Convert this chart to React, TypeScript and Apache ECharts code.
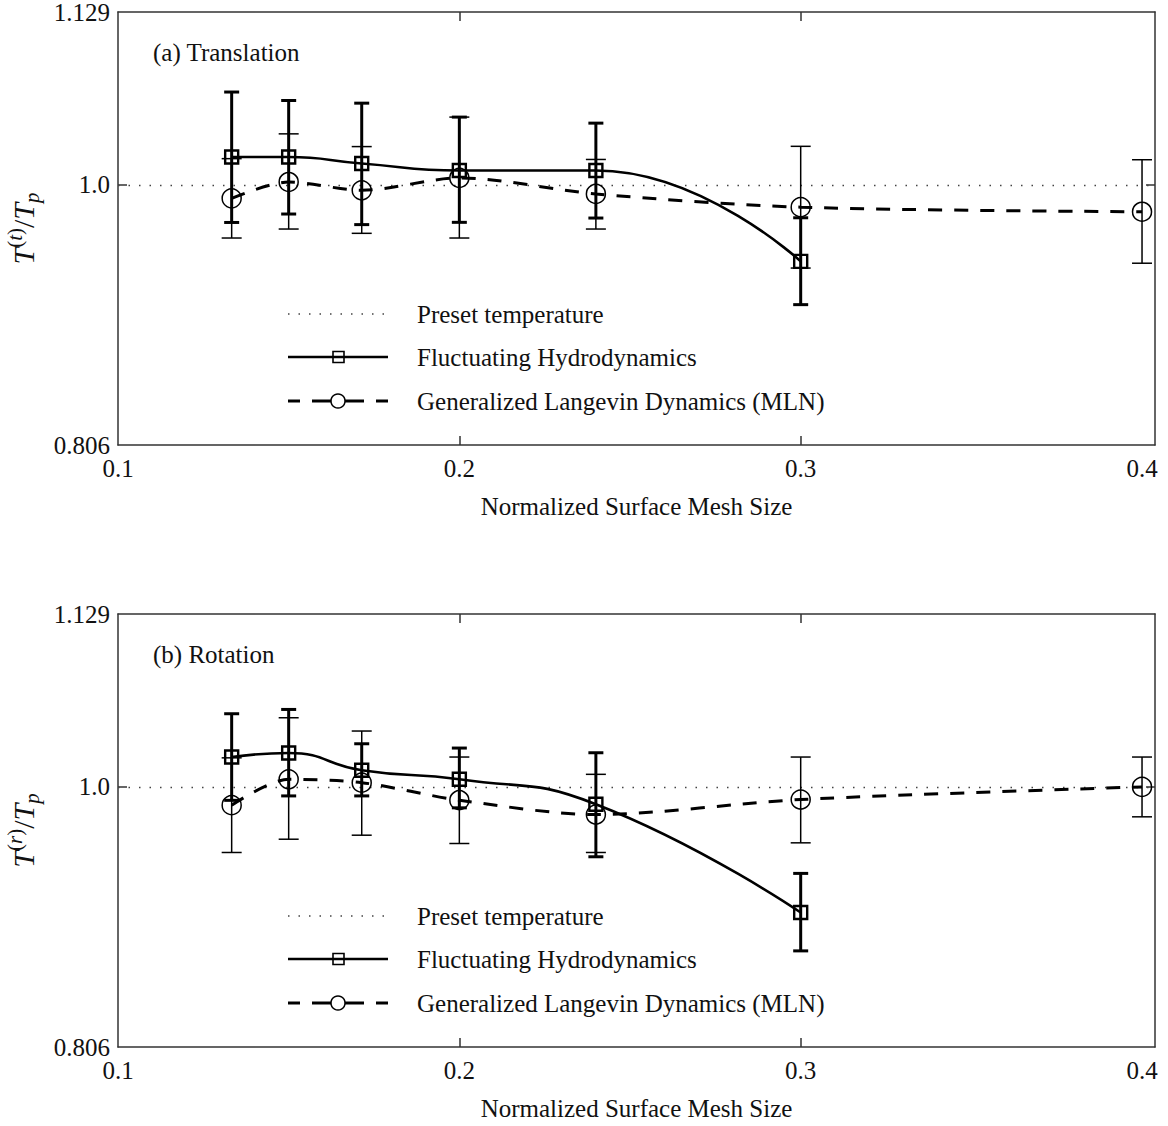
import React, { useEffect, useRef } from 'react';
import * as echarts from 'echarts';

// ---- data ----
const meshSizes = [0.1333, 0.15, 0.1714, 0.2, 0.24, 0.3, 0.4];
const xTickValues = [0.1, 0.2, 0.3, 0.4];
const yTickValues = [0.806, 1.0, 1.129];
const presetTemperature = 1.0;

// (a) Translation
const fhTrans = [1.0208, 1.0208, 1.016, 1.0108, 1.0108, 0.943];
const fhTransLow = [0.972, 0.9783, 0.9704, 0.9721, 0.9753, 0.9107];
const fhTransHigh = [1.0693, 1.063, 1.061, 1.0506, 1.0461, 0.9755];
const gldTrans = [0.99, 1.0022, 0.996, 1.0052, 0.9933, 0.9834, 0.98];
const gldTransLow = [0.9604, 0.9671, 0.9639, 0.9604, 0.9671, 0.938, 0.9416];
const gldTransHigh = [1.0196, 1.0381, 1.0286, 1.0506, 1.019, 1.0288, 1.0188];

// (b) Rotation
const fhRot = [1.0223, 1.0253, 1.0124, 1.0057, 0.9871, 0.9063];
const fhRotLow = [0.99, 0.9933, 0.9933, 0.9844, 0.9479, 0.8777];
const fhRotHigh = [1.0546, 1.0578, 1.0322, 1.029, 1.0255, 0.9355];
const gldRot = [0.9864, 1.0057, 1.0032, 0.9901, 0.9794, 0.9906, 1.0];
const gldRotLow = [0.9511, 0.961, 0.964, 0.9578, 0.9511, 0.9583, 0.9777];
const gldRotHigh = [1.0217, 1.0516, 1.0417, 1.0223, 1.0094, 1.0223, 1.0223];

const panelTitles = ['(a) Translation', '(b) Rotation'];
const yNames = [
  '{i|T}{s|(}{si|t}{s|)}{n|/}{i|T}{b|p}',
  '{i|T}{s|(}{si|r}{s|)}{n|/}{i|T}{b|p}',
];
const xName = 'Normalized Surface Mesh Size';
const legendLabels = ['Preset temperature', 'Fluctuating Hydrodynamics', 'Generalized Langevin Dynamics (MLN)'];

const FONT = "'Liberation Serif', 'Times New Roman', serif";
const AXIS = '#333';
const INK = '#111';
const FS = 25;

function errorBars(xs: number[], lows: number[], highs: number[], idx: number, width: number, cap: number) {
  return {
    type: 'custom',
    xAxisIndex: idx * 2,
    yAxisIndex: idx * 2,
    z: 3,
    silent: true,
    data: lows.map((lo, i) => [xs[i], lo, highs[i]]),
    encode: { x: 0, y: [1, 2] },
    renderItem: (params: any, api: any) => {
      const x = api.value(0);
      const lo = api.coord([x, api.value(1)]);
      const hi = api.coord([x, api.value(2)]);
      const h = cap / 2;
      const style = { stroke: '#000', lineWidth: width, fill: 'none' };
      return {
        type: 'group',
        children: [
          { type: 'line', shape: { x1: lo[0], y1: lo[1], x2: hi[0], y2: hi[1] }, style },
          { type: 'line', shape: { x1: lo[0] - h, y1: lo[1], x2: lo[0] + h, y2: lo[1] }, style },
          { type: 'line', shape: { x1: hi[0] - h, y1: hi[1], x2: hi[0] + h, y2: hi[1] }, style },
        ],
      };
    },
  };
}

function panelSeries(idx: number, fh: number[], fhLo: number[], fhHi: number[], gld: number[], gldLo: number[], gldHi: number[]) {
  const fhX = meshSizes.slice(0, fh.length);
  return [
    errorBars(meshSizes, gldLo, gldHi, idx, 1.5, 20),
    errorBars(fhX, fhLo, fhHi, idx, 3, 15),
    {
      type: 'line',
      name: legendLabels[2],
      xAxisIndex: idx * 2,
      yAxisIndex: idx * 2,
      z: 4,
      data: meshSizes.map((x, i) => [x, gld[i]]),
      smooth: 0.3,
      symbol: 'circle',
      symbolSize: 19,
      itemStyle: { color: 'rgba(0,0,0,0)', borderColor: '#000', borderWidth: 1.5 },
      lineStyle: { color: '#000', width: 3, type: [14, 12] },
      markLine: {
        silent: true,
        symbol: 'none',
        label: { show: false },
        z: 1,
        lineStyle: { color: '#444', width: 1.3, type: [1.5, 9] },
        data: [{ yAxis: presetTemperature }],
      },
    },
    {
      type: 'line',
      name: legendLabels[1],
      xAxisIndex: idx * 2,
      yAxisIndex: idx * 2,
      z: 5,
      data: fhX.map((x, i) => [x, fh[i]]),
      smooth: 0.5,
      symbol: 'rect',
      symbolSize: 13,
      itemStyle: { color: 'rgba(0,0,0,0)', borderColor: '#000', borderWidth: 2.4 },
      lineStyle: { color: '#000', width: 2.6 },
    },
  ];
}

function legendGraphic(y0: number) {
  const rows = [y0, y0 + 43, y0 + 87];
  const els: any[] = [];
  els.push({ type: 'line', shape: { x1: 288, y1: rows[0], x2: 388, y2: rows[0] }, style: { stroke: '#444', lineWidth: 1.3, lineDash: [1.5, 9] } });
  els.push({ type: 'line', shape: { x1: 288, y1: rows[1], x2: 388, y2: rows[1] }, style: { stroke: '#000', lineWidth: 2.6 } });
  els.push({ type: 'rect', shape: { x: 333, y: rows[1] - 5.5, width: 11, height: 11 }, style: { fill: 'none', stroke: '#000', lineWidth: 1.6 } });
  const segs = [[288, 300], [312, 331], [345, 364], [376, 388]];
  segs.forEach(([a, b]) => els.push({ type: 'line', shape: { x1: a, y1: rows[2], x2: b, y2: rows[2] }, style: { stroke: '#000', lineWidth: 3 } }));
  els.push({ type: 'circle', shape: { cx: 338, cy: rows[2], r: 7 }, style: { fill: 'none', stroke: '#000', lineWidth: 1.5 } });
  legendLabels.forEach((t, i) =>
    els.push({ type: 'text', style: { text: t, x: 417, y: rows[i], fontFamily: FONT, fontSize: FS, fill: INK, verticalAlign: 'middle' } })
  );
  return els;
}

const richName = {
  i: { fontFamily: FONT, fontStyle: 'italic', fontSize: 30, lineHeight: 38, color: INK },
  n: { fontFamily: FONT, fontSize: 30, lineHeight: 38, color: INK },
  s: { fontFamily: FONT, fontSize: 21, lineHeight: 22, verticalAlign: 'top', color: INK },
  si: { fontFamily: FONT, fontStyle: 'italic', fontSize: 21, lineHeight: 22, verticalAlign: 'top', color: INK },
  b: { fontFamily: FONT, fontStyle: 'italic', fontSize: 21, lineHeight: 26, verticalAlign: 'bottom', color: INK },
};

function axesFor(idx: number) {
  const lineStyle = { color: AXIS, width: 1.5 };
  const xMin = 0.1;
  const xMax = 0.4038;
  const yMin = 0.806;
  const yMax = 1.129;
  const xAxes = [
    {
      type: 'value', gridIndex: idx, min: xMin, max: xMax, position: 'bottom',
      axisLine: { show: true, onZero: false, lineStyle },
      axisTick: { show: true, inside: true, length: 9, customValues: [0.2, 0.3], lineStyle },
      axisLabel: { show: true, customValues: xTickValues, margin: 11, fontFamily: FONT, fontSize: FS, color: INK, formatter: (v: number) => v.toFixed(1) },
      splitLine: { show: false },
      name: xName, nameLocation: 'middle', nameGap: 49,
      nameTextStyle: { fontFamily: FONT, fontSize: FS, color: INK },
    },
    {
      type: 'value', gridIndex: idx, min: xMin, max: xMax, position: 'top',
      axisLine: { show: true, onZero: false, lineStyle },
      axisTick: { show: true, inside: true, length: 9, customValues: [0.2, 0.3], lineStyle },
      axisLabel: { show: false },
      splitLine: { show: false },
    },
  ];
  const yAxes = [
    {
      type: 'value', gridIndex: idx, min: yMin, max: yMax, position: 'left',
      axisLine: { show: true, onZero: false, lineStyle },
      axisTick: { show: true, inside: true, length: 9, customValues: [1.0], lineStyle },
      axisLabel: { show: true, customValues: yTickValues, margin: 8, fontFamily: FONT, fontSize: FS, color: INK, formatter: (v: number) => (v === 1 ? '1.0' : String(v)) },
      splitLine: { show: false },
      name: yNames[idx], nameLocation: 'middle', nameGap: 60, nameRotate: 90,
      nameTextStyle: { rich: richName },
    },
    {
      type: 'value', gridIndex: idx, min: yMin, max: yMax, position: 'right',
      axisLine: { show: true, onZero: false, lineStyle },
      axisTick: { show: true, inside: true, length: 9, customValues: [1.0], lineStyle },
      axisLabel: { show: false },
      splitLine: { show: false },
    },
  ];
  return { xAxes, yAxes };
}

export default function App() {
  const ref = useRef<HTMLDivElement>(null);
  useEffect(() => {
    document.body.style.margin = '0';
    const chart = echarts.init(ref.current!, null, { renderer: 'svg' });
    const a0 = axesFor(0);
    const a1 = axesFor(1);
    chart.setOption({
      animation: false,
      backgroundColor: '#fff',
      grid: [
        { left: 118, right: 13, top: 12, height: 433, containLabel: false, outerBoundsMode: 'none' },
        { left: 118, right: 13, top: 614, height: 433, containLabel: false, outerBoundsMode: 'none' },
      ],
      title: panelTitles.map((t, i) => ({
        text: t, left: 153, top: 40 + i * 602, padding: 0,
        textStyle: { fontFamily: FONT, fontSize: FS, fontWeight: 'normal', color: INK },
      })),
      xAxis: [...a0.xAxes, ...a1.xAxes],
      yAxis: [...a0.yAxes, ...a1.yAxes],
      series: [
        ...panelSeries(0, fhTrans, fhTransLow, fhTransHigh, gldTrans, gldTransLow, gldTransHigh),
        ...panelSeries(1, fhRot, fhRotLow, fhRotHigh, gldRot, gldRotLow, gldRotHigh),
      ],
      graphic: [...legendGraphic(314), ...legendGraphic(916)],
    });
    return () => chart.dispose();
  }, []);
  return <div ref={ref} style={{ width: 1168, height: 1126 }} />;
}
